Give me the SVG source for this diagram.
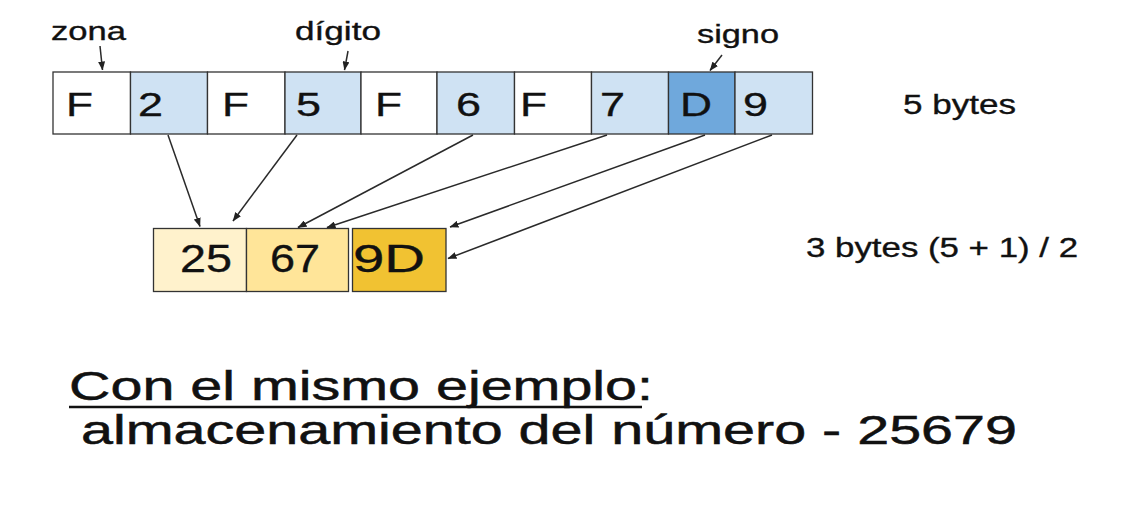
<svg xmlns="http://www.w3.org/2000/svg" width="1125" height="512" viewBox="0 0 1125 512">
<style>
.cell{stroke:#333;stroke-width:1.3}
.w{fill:#ffffff}.b{fill:#cfe2f3}.s{fill:#6fa8dc}
.y1{fill:#fff2cc}.y2{fill:#ffe599}.y3{fill:#f1c232}
text{font-family:"Liberation Sans",Arial,sans-serif;fill:#111;stroke:#111;stroke-width:0.35}
.ct{font-size:34px}
.bt{font-size:38px}
.lbl{font-size:26px}
.side{font-size:27px}
.big{font-size:40px;stroke-width:0.5}
.con{stroke:#2a2a2a;stroke-width:1.5;fill:none;marker-end:url(#ah)}
</style>
<defs>
<marker id="ah" markerWidth="9" markerHeight="7" refX="8.5" refY="3.5" orient="auto" markerUnits="userSpaceOnUse">
<path d="M0,0 L9,3.5 L0,7 Z" fill="#222"/>
</marker>
</defs>
<rect width="1125" height="512" fill="#ffffff"/>

<g id="top-row">
<g id="c1"><rect class="cell w" x="53" y="72" width="77.5" height="62"/><text class="ct" x="66" y="116" textLength="27" lengthAdjust="spacingAndGlyphs">F</text></g>
<g id="c2"><rect class="cell b" x="130.5" y="72" width="77" height="62"/><text class="ct" x="138" y="116" textLength="25" lengthAdjust="spacingAndGlyphs">2</text></g>
<g id="c3"><rect class="cell w" x="207.5" y="72" width="77.5" height="62"/><text class="ct" x="222" y="116" textLength="27" lengthAdjust="spacingAndGlyphs">F</text></g>
<g id="c4"><rect class="cell b" x="285" y="72" width="76" height="62"/><text class="ct" x="296" y="116" textLength="25" lengthAdjust="spacingAndGlyphs">5</text></g>
<g id="c5"><rect class="cell w" x="361" y="72" width="76" height="62"/><text class="ct" x="375" y="116" textLength="27" lengthAdjust="spacingAndGlyphs">F</text></g>
<g id="c6"><rect class="cell b" x="437" y="72" width="77.5" height="62"/><text class="ct" x="456" y="116" textLength="25" lengthAdjust="spacingAndGlyphs">6</text></g>
<g id="c7"><rect class="cell w" x="514.5" y="72" width="77" height="62"/><text class="ct" x="520" y="116" textLength="27" lengthAdjust="spacingAndGlyphs">F</text></g>
<g id="c8"><rect class="cell b" x="591.5" y="72" width="77" height="62"/><text class="ct" x="600" y="116" textLength="25" lengthAdjust="spacingAndGlyphs">7</text></g>
<g id="c9"><rect class="cell s" x="668.5" y="72" width="66.5" height="62"/><text class="ct" x="680" y="116" textLength="32" lengthAdjust="spacingAndGlyphs">D</text></g>
<g id="c10"><rect class="cell b" x="735" y="72" width="77.5" height="62"/><text class="ct" x="743" y="116" textLength="25" lengthAdjust="spacingAndGlyphs">9</text></g>
</g>

<g id="bottom-row">
<g id="p1"><rect class="cell y1" x="153.5" y="228.5" width="93" height="63"/><text class="bt" x="180" y="272" textLength="52" lengthAdjust="spacingAndGlyphs">25</text></g>
<g id="p2"><rect class="cell y2" x="246.5" y="228.5" width="102" height="63"/><text class="bt" x="270" y="272" textLength="50" lengthAdjust="spacingAndGlyphs">67</text></g>
<g id="p3"><rect class="cell y3" x="352.5" y="228.5" width="93.5" height="63"/><text class="bt" x="353" y="272" textLength="72" lengthAdjust="spacingAndGlyphs">9D</text></g>
</g>

<g id="labels">
<g id="zona"><text class="lbl" x="51" y="40" textLength="75" lengthAdjust="spacingAndGlyphs">zona</text></g>
<g id="digito"><text class="lbl" x="295" y="40" textLength="86" lengthAdjust="spacingAndGlyphs">dígito</text></g>
<g id="signo"><text class="lbl" x="697" y="43" textLength="82" lengthAdjust="spacingAndGlyphs">signo</text></g>
<g id="bytes5"><text class="side" x="903" y="114" textLength="113" lengthAdjust="spacingAndGlyphs">5 bytes</text></g>
<g id="bytes3"><text class="side" x="806" y="257" textLength="272" lengthAdjust="spacingAndGlyphs">3 bytes (5 + 1) / 2</text></g>
</g>

<g id="connectors">
<line class="con" x1="100" y1="46" x2="102.5" y2="70"/>
<line class="con" x1="348" y1="51" x2="344.5" y2="70"/>
<line class="con" x1="722" y1="55" x2="710" y2="70.5"/>
<line class="con" x1="168" y1="135" x2="200" y2="226.5"/>
<line class="con" x1="297" y1="135" x2="233" y2="221"/>
<line class="con" x1="473" y1="135" x2="298" y2="227.5"/>
<line class="con" x1="607" y1="135" x2="327" y2="227.5"/>
<line class="con" x1="705" y1="135" x2="450" y2="227"/>
<line class="con" x1="772" y1="135" x2="448" y2="258.5"/>
</g>

<g id="caption">
<text class="big" x="69" y="400" textLength="584" lengthAdjust="spacingAndGlyphs">Con el mismo ejemplo:</text>
<line x1="69" y1="407" x2="642" y2="407" stroke="#111" stroke-width="2.5"/>
<text class="big" x="81" y="444" textLength="936" lengthAdjust="spacingAndGlyphs">almacenamiento del número - 25679</text>
</g>
</svg>
